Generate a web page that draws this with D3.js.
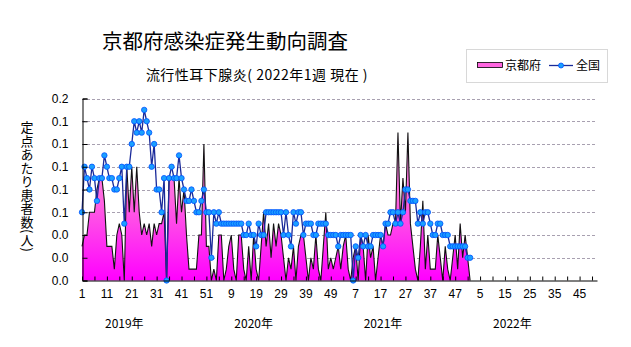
<!DOCTYPE html>
<html><head><meta charset="utf-8">
<script src="https://cdn.jsdelivr.net/npm/d3@7/dist/d3.min.js"></script>
<style>
body{margin:0;background:#fff}
svg{display:block}
text{font-family:"Noto Sans CJK JP","DejaVu Sans",sans-serif;fill:#000}
.num{font-family:"Liberation Sans Narrow","Liberation Sans","DejaVu Sans Condensed",sans-serif}
</style>
</head><body>
<svg id="c" width="631" height="347"></svg>
<script>
// ---- data ----
const years = ["2019年", "2020年", "2021年", "2022年"];
const weeksPerYear = 52;
const yTicks = [0, 0.02, 0.04, 0.06, 0.08, 0.10, 0.12, 0.14, 0.16];
// Kyoto prefecture (per sentinel), 2019w1 .. 2022w1
const kyoto2019 = [
0.03,0.04,0.04,0.06,0.06,0.06,0.08,0.09,0.09,0.07,
0.03,0.03,0.03,0.01,0.04,0.05,0.04,0.00,0.10,0.06,
0.10,0.06,0.10,0.06,0.04,0.05,0.04,0.05,0.03,0.05,
0.04,0.05,0.05,0.06,0.00,0.09,0.09,0.09,0.05,0.09,
0.06,0.08,0.04,0.01,0.01,0.01,0.01,0.04,0.04,0.12,
0.03,0.03];
const kyoto2020 = [
0.00,0.01,0.00,0.04,0.04,0.00,0.01,0.03,0.04,0.01,
0.00,0.04,0.04,0.01,0.00,0.03,0.00,0.04,0.01,0.00,
0.03,0.06,0.03,0.05,0.02,0.05,0.03,0.05,0.04,0.02,
0.00,0.02,0.01,0.03,0.00,0.03,0.04,0.04,0.02,0.00,
0.02,0.01,0.04,0.01,0.00,0.03,0.06,0.01,0.02,0.01,
0.02,0.03];
const kyoto2021 = [
0.01,0.03,0.04,0.01,0.00,0.02,0.03,0.00,0.04,0.03,
0.00,0.04,0.02,0.03,0.00,0.02,0.04,0.03,0.05,0.04,
0.04,0.05,0.05,0.13,0.05,0.09,0.06,0.13,0.05,0.03,
0.01,0.00,0.03,0.07,0.01,0.04,0.01,0.01,0.01,0.04,
0.02,0.00,0.03,0.01,0.00,0.02,0.04,0.01,0.05,0.02,
0.04,0.02];
const kyoto2022 = [0.00];
// Whole country (per sentinel)
const national2019 = [
0.06,0.10,0.09,0.08,0.10,0.09,0.07,0.09,0.09,0.11,
0.10,0.09,0.09,0.08,0.08,0.09,0.10,0.05,0.10,0.10,
0.12,0.14,0.13,0.14,0.13,0.15,0.14,0.13,0.10,0.12,
0.08,0.08,0.06,0.09,0.00,0.09,0.10,0.09,0.09,0.11,
0.09,0.08,0.07,0.07,0.08,0.07,0.06,0.06,0.07,0.08,
0.06,0.06];
const national2020 = [
0.02,0.06,0.05,0.06,0.05,0.05,0.05,0.05,0.05,0.05,
0.05,0.05,0.05,0.04,0.04,0.05,0.04,0.04,0.03,0.05,
0.04,0.04,0.06,0.06,0.06,0.06,0.06,0.06,0.06,0.04,
0.06,0.04,0.03,0.06,0.05,0.06,0.06,0.04,0.05,0.05,
0.05,0.04,0.04,0.05,0.05,0.05,0.05,0.04,0.04,0.04,
0.04,0.03];
const national2021 = [
0.04,0.04,0.04,0.04,0.04,0.00,0.03,0.02,0.04,0.03,
0.04,0.03,0.03,0.04,0.04,0.04,0.04,0.03,0.05,0.05,
0.06,0.06,0.05,0.06,0.05,0.06,0.08,0.08,0.07,0.07,
0.07,0.05,0.06,0.05,0.06,0.06,0.05,0.04,0.04,0.05,
0.05,0.04,0.04,0.04,0.03,0.03,0.03,0.03,0.03,0.03,
0.03,0.02];
const national2022 = [0.02];

const kyoto = [...kyoto2019, ...kyoto2020, ...kyoto2021, ...kyoto2022];
const national = [...national2019, ...national2020, ...national2021, ...national2022];

// ---- layout ----
const svg = d3.select("#c");
const nCat = years.length * weeksPerYear;
const x = d3.scaleLinear().domain([0, nCat - 1]).range([82, 597]);
const y = d3.scaleLinear().domain([0, 0.16]).range([280.5, 98.5]);

const defs = svg.append("defs");
const grad = defs.append("linearGradient").attr("id", "pk")
  .attr("gradientUnits", "userSpaceOnUse")
  .attr("x1", 0).attr("x2", 0).attr("y1", y(0.16)).attr("y2", y(0));
grad.append("stop").attr("offset", "0%").attr("stop-color", "#ffb0e8");
grad.append("stop").attr("offset", "55%").attr("stop-color", "#ff66e0");
grad.append("stop").attr("offset", "100%").attr("stop-color", "#ff00ff");

// titles
svg.append("text").attr("x", 225).attr("y", 49).attr("text-anchor", "middle")
  .attr("font-size", 20.5).text("京都府感染症発生動向調査");
svg.append("text").attr("x", 257).attr("y", 80).attr("text-anchor", "middle")
  .attr("font-size", 14).attr("letter-spacing", 0.5)
  .text("流行性耳下腺炎( 2022年1週 現在 )");

// grid
svg.append("g").selectAll("line").data(yTicks.slice(1)).join("line")
  .attr("x1", 82).attr("x2", 597)
  .attr("y1", d => Math.round(y(d)) + 0.5).attr("y2", d => Math.round(y(d)) + 0.5)
  .attr("stroke", "#a8a0b0").attr("stroke-dasharray", "3,2");

// kyoto area
const idx = d3.range(kyoto.length);
const area = d3.area().x(i => x(i)).y0(y(0)).y1(i => y(kyoto[i]));
svg.append("path").datum(idx).attr("d", area).attr("fill", "url(#pk)");
svg.append("path").datum(idx)
  .attr("d", d3.line().x(i => x(i)).y(i => y(kyoto[i])))
  .attr("fill", "none").attr("stroke", "#111").attr("stroke-width", 1.1);

// national line
const nIdx = d3.range(national.length);
svg.append("path").datum(nIdx)
  .attr("d", d3.line().x(i => x(i)).y(i => y(national[i])))
  .attr("fill", "none").attr("stroke", "#1a2a9a").attr("stroke-width", 1.3);
svg.append("g").selectAll("circle").data(nIdx).join("circle")
  .attr("cx", i => x(i)).attr("cy", i => y(national[i])).attr("r", 2.7)
  .attr("fill", "#1aa0ff").attr("stroke", "#0050ff").attr("stroke-width", 0.8);

// axes
const yAxis = d3.axisLeft(y).tickValues(yTicks).tickSize(-5).tickPadding(14)
  .tickFormat(d3.format(".1f"));
const gy = svg.append("g").attr("transform", "translate(82.5,0)").call(yAxis);
gy.select(".domain").attr("stroke", "#000");
gy.selectAll("line").attr("stroke", "#000");
gy.selectAll("text").attr("class", "num").attr("font-size", 12).attr("fill", "#000");

const xTickVals = d3.range(0, nCat, 5);
const xAxis = d3.axisBottom(x).tickValues(xTickVals).tickSize(-4).tickSizeOuter(0)
  .tickFormat(() => "");
const gx = svg.append("g").attr("transform", "translate(0,280.5)").call(xAxis);
gx.select(".domain").attr("stroke", "#000");
gx.selectAll("line").attr("stroke", "#000");

const labelIdx = d3.range(0, nCat, 10);
svg.append("g").selectAll("text").data(labelIdx).join("text")
  .attr("class", "num").attr("font-size", 12)
  .attr("x", i => x(i)).attr("y", 298).attr("text-anchor", "middle")
  .text(i => (i % weeksPerYear) + 1);

svg.append("g").selectAll("text").data(years).join("text")
  .attr("font-size", 12).attr("text-anchor", "middle")
  .attr("x", (d, k) => x(k * weeksPerYear + 17)).attr("y", 328)
  .text(d => d);

// y axis title (vertical)
svg.append("text").attr("x", 27).attr("y", 121)
  .attr("font-size", 13).style("writing-mode", "vertical-rl")
  .attr("letter-spacing", 0.5)
  .text("定点あたり患者数(人)");

// legend
const lg = svg.append("g");
lg.append("rect").attr("x", 466.5).attr("y", 49.5).attr("width", 141).attr("height", 33)
  .attr("fill", "#fff").attr("stroke", "#b0b0b0").attr("stroke-dasharray", "1,1");
lg.append("rect").attr("x", 477.5).attr("y", 62.5).attr("width", 25).attr("height", 5)
  .attr("fill", "#ff66e0").attr("stroke", "#000").attr("stroke-width", 0.8);
lg.append("text").attr("x", 505).attr("y", 70).attr("font-size", 12).text("京都府");
lg.append("line").attr("x1", 549).attr("x2", 573).attr("y1", 65.5).attr("y2", 65.5)
  .attr("stroke", "#1a2a9a").attr("stroke-width", 1.3);
lg.append("circle").attr("cx", 561).attr("cy", 65.5).attr("r", 2.5)
  .attr("fill", "#1aa0ff").attr("stroke", "#0050ff").attr("stroke-width", 0.8);
lg.append("text").attr("x", 576).attr("y", 70).attr("font-size", 12).text("全国");
</script>
</body></html>
